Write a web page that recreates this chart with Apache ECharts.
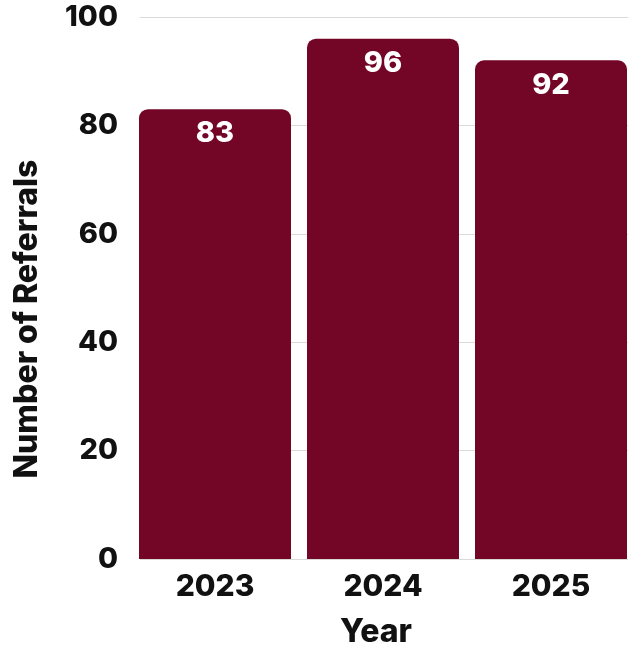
<!DOCTYPE html>
<html>
<head>
<meta charset="utf-8">
<script src="https://cdn.jsdelivr.net/npm/echarts@6/dist/echarts.min.js"></script>
<style>
  html, body { margin: 0; padding: 0; background: #ffffff; }
  #chart { width: 635px; height: 647px; }
</style>
</head>
<body>
<div id="chart"></div>
<script>
// Referrals per year
const years = ['2023', '2024', '2025'];
const referrals = [83, 96, 92];
const yTicks = [0, 20, 40, 60, 80, 100];

const FONT = 'Inter, "Open Sans", sans-serif';
const BAR_COLOR = '#730626';

const chart = echarts.init(document.getElementById('chart'), null, { renderer: 'canvas' });

chart.setOption({
  backgroundColor: '#ffffff',
  animation: false,
  grid: [
    // value grid: tick labels and horizontal gridlines
    { left: 140, top: 17, width: 488, height: 542 },
    // bar grid: slightly wider so the bars sit flush with the plot edges
    { left: 131, top: 17, width: 507, height: 542 }
  ],
  xAxis: [
    { type: 'category', gridIndex: 0, data: years, show: false },
    {
      type: 'category', gridIndex: 1, data: years,
      axisLine: { show: false }, axisTick: { show: false },
      axisLabel: { color: '#111', fontFamily: FONT, fontWeight: 800, fontSize: 30, margin: 13 }
    }
  ],
  yAxis: [
    {
      type: 'value', gridIndex: 0, min: yTicks[0], max: yTicks[yTicks.length - 1], interval: 20,
      axisLine: { show: false }, axisTick: { show: false },
      splitLine: { show: true, lineStyle: { color: '#d9d9d9', width: 1 } },
      axisLabel: { color: '#111', fontFamily: FONT, fontWeight: 800, fontSize: 29, margin: 22 }
    },
    {
      type: 'value', gridIndex: 1, min: yTicks[0], max: yTicks[yTicks.length - 1], interval: 20,
      show: false, splitLine: { show: false }
    }
  ],
  series: [
    {
      type: 'bar', xAxisIndex: 1, yAxisIndex: 1,
      data: referrals,
      barWidth: 152,
      itemStyle: { color: BAR_COLOR, borderRadius: [9, 9, 0, 0] },
      label: {
        show: true, position: 'insideTop', distance: 10,
        color: '#ffffff', fontFamily: FONT, fontWeight: 800, fontSize: 29
      }
    }
  ],
  graphic: [
    {
      type: 'text', x: 27, y: 319, rotation: Math.PI / 2,
      style: {
        text: 'Number of Referrals', fill: '#111', font: '800 32px ' + FONT,
        textAlign: 'center', textVerticalAlign: 'middle'
      }
    },
    {
      type: 'text', x: 376, y: 632,
      style: {
        text: 'Year', fill: '#111', font: '800 32px ' + FONT,
        textAlign: 'center', textVerticalAlign: 'middle'
      }
    }
  ]
});
</script>
</body>
</html>
